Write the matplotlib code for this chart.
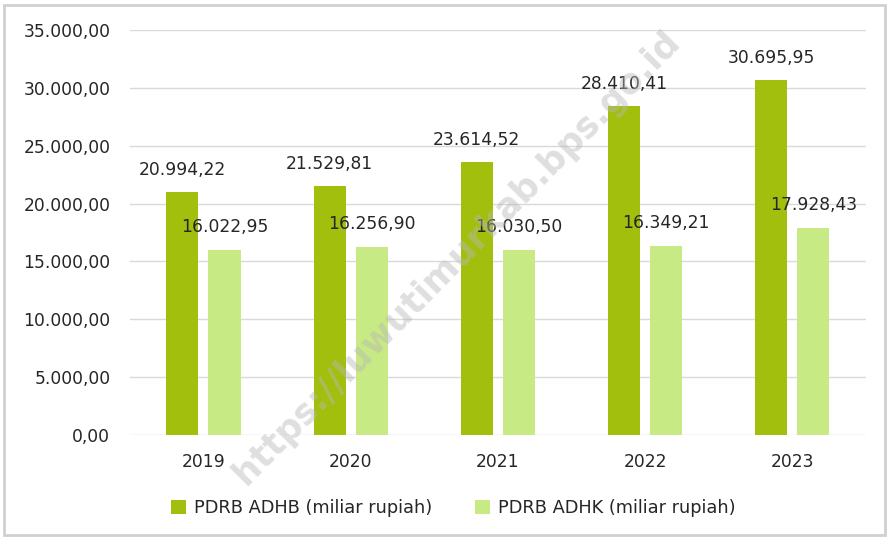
import matplotlib
matplotlib.use('Agg')
import matplotlib.pyplot as plt
import numpy as np
from matplotlib.patches import Rectangle

plt.rcParams['font.family'] = ['DejaVu Sans']

years = ['2019', '2020', '2021', '2022', '2023']
adhb = [20994.22, 21529.81, 23614.52, 28410.41, 30695.95]
adhk = [16022.95, 16256.90, 16030.50, 16349.21, 17928.43]
yticks = [0, 5000, 10000, 15000, 20000, 25000, 30000, 35000]


def fmt(v):
    # indonesian style: dot for thousands, comma for decimals
    return f'{v:,.2f}'.replace(',', 'X').replace('.', ',').replace('X', '.')


fig = plt.figure(figsize=(8.89, 5.38), dpi=100)
ax = fig.add_axes([0.146, 0.1914, 0.828, 0.7526])

dark = '#a1bf0c'
light = '#c8ea84'
x = np.arange(len(years))
w = 0.218
off = 0.143
ax.bar(x - off, adhb, w, color=dark, label='PDRB ADHB (miliar rupiah)', zorder=3)
ax.bar(x + off, adhk, w, color=light, label='PDRB ADHK (miliar rupiah)', zorder=3)

fs = 12.3
for i in range(len(years)):
    ax.text(x[i] - off, adhb[i] + 1150, fmt(adhb[i]), ha='center', va='bottom',
            fontsize=fs, color='#262626', zorder=4)
    ax.text(x[i] + off, adhk[i] + 1200, fmt(adhk[i]), ha='center', va='bottom',
            fontsize=fs, color='#262626', zorder=4)

ax.set_xlim(-0.5, 4.5)
ax.set_ylim(0, 35000)
ax.set_yticks(yticks)
ax.set_yticklabels([fmt(v) for v in yticks])
ax.set_xticks(x)
ax.set_xticklabels(years)
ax.tick_params(axis='both', length=0, labelsize=fs, colors='#262626')
ax.tick_params(axis='y', pad=14)
ax.tick_params(axis='x', pad=13)
ax.grid(axis='y', color='#d9d9d9', linewidth=1, zorder=0)
for s in ax.spines.values():
    s.set_visible(False)

ax.legend(loc='center', bbox_to_anchor=(0.44, -0.181), ncol=2, frameon=False,
          fontsize=12.8, handlelength=0.8, handleheight=0.8, handletextpad=0.5,
          columnspacing=2.4, labelcolor='#262626')

# watermark
fig.text(0.514, 0.522, 'https://luwutimurkab.bps.go.id', rotation=45.5, ha='center', va='center',
         fontsize=25.5, fontweight='bold', color='#b8b8b8', alpha=0.45, zorder=10)

fig.patches.append(Rectangle((0.005, 0.006), 0.99, 0.985, transform=fig.transFigure,
                             fill=False, edgecolor='#d0d0d0', linewidth=2))

fig.savefig('out.png', dpi=100)
